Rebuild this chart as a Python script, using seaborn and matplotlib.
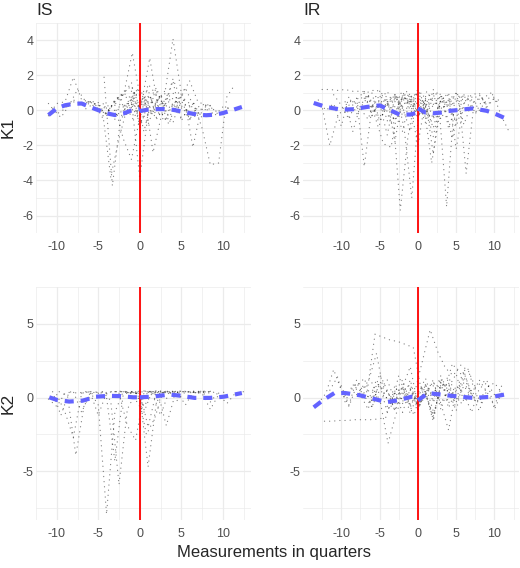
import pandas as pd
import matplotlib.pyplot as plt
import seaborn as sns

# individual trajectories: (first quarter, value at each following quarter)
is_k1 = [
    (-11, [-0.3, 0.4, 0.5, 1.9, 0.6, 0.5, 0.3, 0.2, 0.0, -0.4, 0.2, 0.5]),
    (-10.5, [0.1, -0.4, 0.3, 1.2, 0.5, 0.5, 0.4, 0.2]),
    (-6, [0.5, 0.3, 0.1, -0.3, 0.0, 0.4, 0.2, 0.8, 0.3]),
    (-4.3, [1.9, -4.3, -0.4, 0.6, 1.2, 0.4]),
    (-4.5, [0.0, -3.8, -1.6, 0.2, 0.5, -0.2]),
    (-3, [0.3, -1.6, -2.8, -0.4, 0.8, 0.2, -0.3]),
    (-2.9, [0.4, 1.0, 3.3, 0.6, -0.3, 0.2, 0.5]),
    (-2, [0.2, 0.6, -3.9, -0.2, 0.5, 0.1]),
    (-1.8, [0.3, -0.5, 0.4, 3.0, 0.2, -0.6, 0.1]),
    (1, [0.3, 0.6, 0.9, 4.1, 1.0, -0.5, -0.2, 0.3]),
    (-1.4, [0.4, -0.2, 0.8, -2.4, -0.3, 0.2, 0.4]),
    (4.4, [0.2, 0.6, -2.1, 0.1, 0.3, -0.2, 0.0]),
    (4.5, [0.3, 0.0, 0.4, -1.0, -3.1, -3.0, 0.8, 1.5]),
    (-9, [0.2, 0.5, 0.3, 0.4, 0.1, -0.2, 0.6, 0.9, 0.5, 1.2, 0.4, -0.5, 0.3, 0.7, 0.2]),
    (-7, [0.4, 0.5, 0.2, -0.3, 0.6, 1.0, 1.4, 0.2, -0.8, 0.5, 1.1, 0.3, -0.4, 0.0]),
    (-5, [0.3, -0.2, 0.5, 1.0, 0.7, -0.6, 1.5, 0.9, 0.3, 1.8, 0.6, -0.5, 0.2]),
    (-3, [-0.5, 0.9, 1.6, -1.0, 0.4, 1.1, 0.2, 1.7, -0.6, 0.3, 0.5]),
    (-1, [1.1, -0.9, 0.5, 1.3, 0.0, -0.7, 0.8, 0.4, -0.3, 0.1]),
    (0, [0.7, 1.2, -0.4, 0.6, 1.0, 0.3, -0.5, 0.2, 0.4, 0.0, -0.2, 0.3]),
    (-6.5, [0.1, 0.4, -0.4, 0.2, 0.8, -0.3, 1.2, 0.5, -0.2, 0.9, 0.0, 0.6, 1.3, 0.2, -0.4, 0.3]),
    (2, [0.0, -0.6, 0.4, 0.8, 1.7, 0.5, 0.3, -0.3, 0.2, 0.1]),
    (-2.5, [0.2, 0.3, 1.0, -1.2, 0.7, 0.5, -0.8, 0.6]),
    (-11, [0.4, -0.2, 0.1, 0.6, 0.4, 0.5]),
]

ir_k1 = [
    (-12.5, [1.2, 1.2, 1.15, 1.2, 1.1, 1.1, 1.05, 1.2, 0.9, 0.6, 0.8, 0.5, 0.9, 1.0]),
    (-13.5, [0.4, 0.2, -2.0, -0.4, 0.3, 0.6, 0.1, -0.5, 0.8, 0.2]),
    (-9, [0.3, 0.7, -3.2, 0.2, -0.4, 0.5, 0.9, 0.1]),
    (-6.5, [0.8, -0.5, -1.9, -2.1, 0.4, 1.0, 0.3]),
    (-4.3, [0.6, 0.1, -5.7, -1.5, 0.8, 0.2, -0.4]),
    (-3.8, [0.3, 0.9, -1.0, -5.0, 0.5, 1.1, 0.2]),
    (-0.2, [0.9, 0.2, -3.0, -0.3, 0.6, 0.4, 0.8]),
    (0.75, [0.5, -0.6, 0.3, -5.5, 0.4, 0.9, 0.2, -0.1]),
    (3.3, [0.7, 0.2, 1.0, -3.6, 0.3, 0.8, -0.2]),
    (7, [0.6, 0.9, 0.3, 0.7, -0.4, -1.3]),
    (-13, [0.6, 0.0, 0.4, -0.9, 0.8, -0.2, 0.5, 1.0, -0.6, 0.3, 0.9, 0.2, -1.2, 0.7, 0.4]),
    (-11, [0.9, 0.3, -0.5, 0.6, 1.1, -0.3, 0.4, -1.4, 0.8, 0.2, 1.0, -0.2, 0.5]),
    (-8, [0.2, 1.0, 0.4, -0.8, 0.7, -1.8, 0.9, 0.3, 0.6, -0.4, 1.2, 0.5]),
    (-6, [-0.3, 0.6, 1.1, 0.2, -1.2, 0.8, 0.4, -0.7, 0.9, 0.1, 0.6, 1.0]),
    (-5, [1.1, 0.4, -0.6, 0.8, 0.3, -2.0, 0.7, 1.0, -0.5, 0.4, 0.9]),
    (-3, [0.9, -0.3, 0.5, 1.2, 0.2, -1.5, 0.6, 0.3, 1.0, -0.8, 0.4, 0.7]),
    (-2, [0.2, 0.7, -0.4, 0.6, -2.5, 0.8, 0.2, -0.6, 0.9, 0.5]),
    (-1, [0.5, 1.0, 0.3, -1.0, 0.6, 0.9, -2.2, 0.4, 0.8, 0.0, 0.6, 1.0]),
    (1, [0.8, -0.5, 0.6, 1.0, -0.9, 0.4, 0.9, 1.0, 0.2, 0.7, 0.5]),
    (-9.5, [0.5, -1.2, 0.3, 0.9, 0.0, 0.6, -0.8, 0.4, 1.1, 0.2, -0.3, 0.7, 0.4]),
    (-4, [0.4, -0.2, 0.8, 0.5, -0.4, 0.6, 0.2, 1.0, -1.0, 0.3]),
    (2.5, [1.0, 0.2, -1.6, 0.5, 0.9, -0.2, 0.7, 1.0, 0.4]),
    (-7, [0.7, 0.1, 0.9, -0.6, 0.5, 1.1, 0.0, 0.6]),
]

is_k2 = [
    (-10.5, [0.4, -1.2, 0.4, 0.3, 0.4, 0.4, 0.3, 0.4, 0.4, 0.4, 0.35, 0.4,
             0.4, 0.3, 0.4, 0.4, 0.4, 0.35, 0.4, 0.4, 0.3, 0.4]),
    (-9.7, [0.4, 0.1, -3.9, -0.5, 0.3, 0.4, 0.2]),
    (-10, [0.2, -1.0, -2.7, 0.3, 0.4]),
    (-6, [0.4, -0.5, -7.9, -1.0, 0.4, 0.3]),
    (-4.5, [0.4, -0.2, -5.9, -0.8, 0.3, 0.4]),
    (-5, [0.3, 0.0, -4.3, 0.2, 0.4]),
    (-2.5, [0.3, -1.9, -2.9, 0.3, 0.4, 0.4]),
    (-1, [0.4, 0.2, -4.7, -0.3, 0.4, 0.4, 0.3]),
    (1.2, [0.4, 0.3, -1.9, 0.1, 0.4, 0.4, 0.3, 0.4]),
    (6.5, [0.4, 0.3, -0.8, 0.2, -0.4, 0.3, 0.4]),
    (-3, [0.4, 0.45, 0.3, 0.4, 0.45, 0.2, 0.4, 0.35, 0.45, 0.4, 0.3, 0.4, 0.45]),
    (-1.5, [0.35, 0.4, -1.0, 0.45, 0.4, 0.3, 0.45, 0.4, 0.3, 0.45, -0.3, 0.4]),
    (-0.5, [0.4, -0.6, 0.3, 0.45, 0.4, -0.2, 0.4, 0.35, 0.45, 0.4]),
    (-7, [0.3, 0.4, -1.2, 0.35, 0.4, 0.4, 0.3, -0.6, 0.4, 0.45, 0.3]),
    (0.5, [0.45, 0.4, -1.2, 0.35, 0.4, -0.5, 0.45, 0.4, 0.3]),
    (-2, [0.4, 0.3, 0.45, -2.0, 0.4, 0.35]),
    (-11, [-0.1, -0.6, 0.3, 0.4, -1.0, 0.3, 0.4]),
    (-0.2, [0.3, -2.5, -1.4, 0.4, 0.45, 0.3]),
]

ir_k2 = [
    (-12.2, [-1.6, -1.6, -1.55, -1.55, -1.5, -1.5, -1.5, -1.45, -1.35, 0.2, 0.6]),
    (-6.6, [0.5, 4.3, 4.1, 3.9, 3.8, 3.6, 3.4, 0.6, 0.2]),
    (-0.4, [0.4, 2.5, 4.6, 3.1, 2.0, 1.5, 2.2, 1.8, 0.6]),
    (-7.4, [0.4, 1.2, 3.0, 0.2, -0.5, 0.6]),
    (-5.9, [0.5, -0.3, -3.1, -1.2, 0.3, -0.6]),
    (2, [0.8, -0.4, -2.2, 0.5, 1.0, 0.2]),
    (3.5, [0.5, 2.3, 1.6, 2.0, 0.3, -0.5]),
    (-13, [-0.4, 0.3, 1.9, 0.5, -0.6, 0.8, 1.3, -0.2, 0.9, -1.0, 0.4, 1.2, -0.5, 0.2, 0.8, -0.9]),
    (-11.5, [0.5, 1.4, -0.3, 0.9, 0.2, -0.8, 1.1, 0.4, -0.6, 1.5, 0.0, -1.2, 0.7]),
    (-10, [0.8, -0.5, 1.2, 0.3, -0.2, 1.6, 0.5, -0.9, 0.4, 0.9, -0.6, 0.2, 1.1, -0.4, 0.6]),
    (-8, [0.2, 0.9, -0.7, 1.1, 0.4, -0.4, 0.8, -1.1, 0.3, 1.3, -0.3, 0.6, 1.0, -0.8]),
    (-6, [1.0, -0.2, 0.5, -0.9, 0.7, 2.1, -0.5, 0.3, -1.3, 0.9, 1.4, 0.1, -0.6]),
    (-4, [-0.6, 0.8, -0.3, 1.2, -0.8, 0.4, -1.5, 1.0, 0.6, -0.2, 1.7, 0.3, -0.9, 0.5]),
    (-3, [0.3, -1.0, 0.6, -0.5, 0.9, -0.2, 1.3, -0.7, 0.5, 1.8, 0.2, -0.4]),
    (-2, [-0.4, 0.5, -0.8, 0.2, -1.2, 0.7, 1.0, -0.3, 0.8, 0.0, 1.2, 0.4, -0.6, 0.9]),
    (-1, [0.6, -0.6, 0.3, -1.6, 1.1, 0.5, -0.9, 1.4, 0.2, -0.3, 0.7, 1.0, 0.3]),
    (0, [-0.8, 0.9, 0.1, 1.5, -0.4, 0.8, 0.3, -1.0, 0.6, 1.0, 0.2, -0.2]),
    (-9, [0.3, 1.0, 0.1, -0.6, 0.5, 1.2, -0.2, 0.7, -0.5, 0.4, 0.8]),
    (1, [0.2, 1.2, -0.8, 0.7, 1.6, -0.3, 0.5, 0.9, 1.2, -0.8, 0.4]),
]

# smoothed trend, before and after quarter 0
is_k1_pre = ([-11, -10, -9, -8, -7, -6, -5, -4, -3, -2, -1, 0],
             [-0.26, 0.12, 0.3, 0.38, 0.4, 0.2, 0.02, -0.16, -0.26, -0.18, 0.0, 0.08])
is_k1_post = ([0, 1, 2, 3, 4, 5, 6, 7, 8, 9, 10, 11, 12.3],
              [-0.03, 0.05, 0.08, 0.08, 0.04, -0.05, -0.15, -0.24, -0.27, -0.24, -0.15, 0.0, 0.2])
ir_k1_pre = ([-13.6, -12, -10, -8.5, -6.7, -5, -3.7, -2.4, -1, -0.3],
             [0.43, 0.2, 0.05, 0.07, 0.2, 0.29, 0.03, -0.23, -0.23, -0.15])
ir_k1_post = ([0, 1, 2, 3, 4, 5.5, 7.2, 9, 10.3, 11.9],
              [0.12, -0.12, -0.16, -0.12, -0.03, 0.04, 0.12, -0.02, -0.23, -0.54])
is_k2_pre = ([-10.9, -9.9, -8.5, -6.9, -5.3, -3.7, -2.3, -0.8, 0],
             [0.02, -0.17, -0.27, -0.21, 0.06, 0.12, 0.1, 0.02, 0.02])
is_k2_post = ([0, 1.4, 3.6, 5, 6.6, 8.5, 10.1, 12.3],
              [0.02, 0.06, 0.21, 0.12, -0.02, -0.02, 0.06, 0.31])
ir_k2_pre = ([-13.6, -12.4, -10.9, -9.5, -7.6, -5.8, -4.1, -2.6, -0.8, 0],
             [-0.66, -0.18, 0.31, 0.31, 0.16, -0.08, -0.31, -0.18, 0.06, 0.05])
ir_k2_post = ([0, 1.35, 2.9, 5.1, 7.2, 9.8, 12],
              [-0.18, 0.31, 0.21, 0.08, -0.02, 0.06, 0.27])


def long_table(trajs):
    rows = []
    for i, (x0, vals) in enumerate(trajs):
        for j, v in enumerate(vals):
            rows.append({"id": i, "quarter": x0 + j, "value": v})
    return pd.DataFrame(rows)


sns.set_theme(style="whitegrid")
plt.rcParams["font.family"] = ["Liberation Sans", "DejaVu Sans"]
plt.rcParams["lines.scale_dashes"] = False
plt.rcParams["axes.unicode_minus"] = False

fig = plt.figure(figsize=(5.2, 5.68), dpi=100)
W, H = 520, 568

panels = [
    # data, pre, post, box(px: left, top, right, bottom), xlim, ylim, yticks, title
    (is_k1, is_k1_pre, is_k1_post, (36, 23, 251, 233), (-12.1, 13.4), (-6.2, 4.6), [-6, -4, -2, 0, 2, 4], "IS"),
    (ir_k1, ir_k1_pre, ir_k1_post, (303, 23, 519, 233), (-15.0, 13.2), (-6.2, 4.6), [-6, -4, -2, 0, 2, 4], "IR"),
    (is_k2, is_k2_pre, is_k2_post, (36, 287, 251, 520), (-12.1, 13.4), (-8.3, 5.25), [-5, 0, 5], None),
    (ir_k2, ir_k2_pre, ir_k2_post, (303, 287, 519, 520), (-15.0, 13.2), (-8.3, 5.25), [-5, 0, 5], None),
]

for trajs, pre, post, box, xlim, ylim, yticks, title in panels:
    l, t, r, b = box
    ax = fig.add_axes([l / W, 1 - b / H, (r - l) / W, (b - t) / H])
    df = long_table(trajs)
    sns.lineplot(data=df, x="quarter", y="value", units="id", estimator=None,
                 color="black", alpha=0.5, lw=0.9, linestyle=(0, (0.1, 3.6)),
                 dash_capstyle="round", sort=False, legend=False, ax=ax)
    ax.axvline(0, color="red", lw=1.3)
    for seg in (pre, post):
        sns.lineplot(x=seg[0], y=seg[1], color="#6363FF", lw=3.0,
                     linestyle=(0, (6.5, 5)), sort=False, estimator=None, ax=ax)
    ax.set_xlim(*xlim)
    ax.set_ylim(*ylim)
    ax.set_xticks([-10, -5, 0, 5, 10])
    ax.set_yticks(yticks)
    step = yticks[1] - yticks[0]
    ax.set_xticks([-12.5, -7.5, -2.5, 2.5, 7.5, 12.5], minor=True)
    ax.set_yticks([v - step / 2 for v in yticks] + [yticks[-1] + step / 2], minor=True)
    ax.grid(which="major", color="#EBEBEB", lw=0.9)
    ax.grid(which="minor", color="#EBEBEB", lw=0.5)
    ax.tick_params(axis="both", which="both", length=0, labelsize=9, labelcolor="#4D4D4D")
    ax.tick_params(axis="x", pad=6)
    ax.tick_params(axis="y", pad=2)
    ax.set_xlabel("")
    ax.set_ylabel("")
    for s in ax.spines.values():
        s.set_visible(False)
    ax.set_facecolor("white")
    if title:
        ax.set_title(title, loc="left", fontsize=12.5, pad=6)

fig.text(1 / W, 1 - 127 / H, "K1", rotation=90, ha="left", va="center", fontsize=12.5)
fig.text(1 / W, 1 - 403 / H, "K2", rotation=90, ha="left", va="center", fontsize=12.5)
fig.text(274 / W, 1 - 552 / H, "Measurements in quarters", ha="center", va="center", fontsize=12)

fig.savefig("out.png", dpi=100, facecolor="white")
